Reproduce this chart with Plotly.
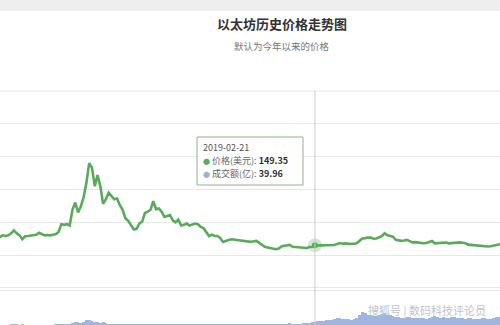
import pandas as pd
import plotly.graph_objects as go

# ---- data (5-day samples) ----
start_date = "2017-07-31"
step = "5D"
price = [
    250, 270, 300, 290, 300, 330, 375, 330, 300, 240,
    285, 290, 300, 300, 310, 340, 320, 300, 305, 300,
    310, 315, 350, 470, 460, 470, 450, 690, 800, 650,
    740, 880, 1100, 1400, 1330, 1050, 1220, 1050, 780, 850,
    950, 900, 850, 860, 760, 690, 560, 520, 450, 390,
    400, 480, 510, 640, 660, 690, 820, 700, 710, 660,
    580, 600, 610, 530, 500, 540, 450, 460, 480, 450,
    470, 480, 470, 430, 410, 340, 290, 310, 290, 290,
    260, 200, 220, 230, 240, 235, 225, 225, 215, 210,
    205, 200, 210, 215, 185, 155, 125, 115, 105, 95,
    88, 100, 130, 140, 150, 155, 125, 125, 120, 115,
    110, 105, 122, 125, 149.35, 145, 140, 147, 150, 152,
    150, 153, 170, 182, 172, 178, 170, 166, 172, 178,
    215, 252, 258, 268, 265, 248, 252, 268, 288, 332,
    300, 290, 280, 232, 226, 216, 222, 232, 212, 192,
    196, 190, 182, 180, 184, 196, 215, 178, 182, 180,
    194, 190, 178, 182, 188, 190, 192, 186, 180, 158,
    154, 150, 148, 142, 130, 132, 130, 134, 144, 146,
    166, 170, 166,
]
volume = [
    4, 5, 5, 4, 5, 6, 7, 6, 5, 7,
    5, 4, 4, 4, 4, 5, 4, 4, 4, 5,
    5, 6, 9, 13, 11, 12, 14, 26, 38, 30,
    28, 40, 52, 60, 48, 36, 34, 28, 30, 20,
    15, 14, 12, 13, 14, 15, 12, 11, 12, 11,
    10, 11, 13, 15, 14, 12, 13, 12, 11, 10,
    9, 9, 10, 9, 8, 9, 8, 8, 8, 8,
    8, 9, 8, 9, 10, 12, 13, 11, 10, 9,
    9, 12, 11, 10, 9, 8, 8, 7, 8, 7,
    7, 7, 7, 8, 10, 13, 14, 12, 11, 13,
    15, 14, 16, 15, 16, 18, 17, 16, 16, 17,
    20, 22, 25, 30, 39.96, 42, 45, 48, 52, 58,
    60, 65, 75, 80, 72, 68, 65, 62, 70, 85,
    110, 150, 140, 120, 110, 100, 105, 115, 125, 140,
    120, 110, 100, 95, 90, 85, 82, 88, 90, 84,
    80, 78, 82, 76, 74, 80, 95, 105, 88, 82,
    86, 84, 80, 90, 92, 84, 78, 76, 74, 80,
    78, 72, 70, 74, 80, 76, 70, 72, 84, 88,
    95, 92, 90,
]
dates = pd.date_range(start_date, periods=len(price), freq=step)

tip_date = "2019-02-21"
tip_price = 149.35
tip_volume = 39.96

title_text = "以太坊历史价格走势图"
subtitle_text = "默认为今年以来的价格"
price_label = "价格(美元)"
volume_label = "成交额(亿)"
watermark = "搜狐号 | 数码科技评论员"

x_view = ["2017-08-05", "2020-01-19"]
price_range = [-533, 2500]
volume_range = [0, 400]

FONT = "Noto Sans CJK SC"
GREEN = "#5aaa5c"
BLUE = "rgba(120,150,210,0.7)"
GRID = "#e8e8e8"

fig = go.Figure()

fig.add_trace(go.Bar(
    x=dates, y=volume, yaxis="y2", marker=dict(color=BLUE, line=dict(width=0)),
    showlegend=False, hoverinfo="skip",
))
fig.add_trace(go.Scatter(
    x=dates, y=price, mode="lines", line=dict(color=GREEN, width=2.6),
    showlegend=False, hoverinfo="skip",
))
# highlighted point
fig.add_trace(go.Scatter(
    x=[tip_date], y=[tip_price], mode="markers",
    marker=dict(size=14, color="rgba(90,170,92,0.28)"),
    showlegend=False, hoverinfo="skip",
))
fig.add_trace(go.Scatter(
    x=[tip_date], y=[tip_price], mode="markers",
    marker=dict(size=6, color=GREEN),
    showlegend=False, hoverinfo="skip",
))

H = 234.0  # plot height in px (325 - 91)


def py(px):
    return (325 - px) / H


tip_lines = [
    f"<span style='color:#555'>{tip_date}</span>",
    f"<span style='color:{GREEN};font-size:7px'>●</span> {price_label}: <b style='color:#333'>{tip_price:.2f}</b>",
    f"<span style='color:#9fb0d4;font-size:7px'>●</span> {volume_label}: <b style='color:#333'>{tip_volume:.2f}</b>",
]
tip_y = [147.5, 160.5, 173.5]

annotations = [
    dict(text=f"<b>{title_text}</b>", xref="paper", yref="paper", x=282 / 500, y=py(24),
         xanchor="center", yanchor="middle", showarrow=False,
         font=dict(size=13, color="#333333", family=FONT)),
    dict(text=subtitle_text, xref="paper", yref="paper", x=282 / 500, y=py(46),
         xanchor="center", yanchor="middle", showarrow=False,
         font=dict(size=9.5, color="#777777", family=FONT)),
    dict(text=watermark, xref="paper", yref="paper", x=427 / 500, y=py(310),
         xanchor="center", yanchor="middle", showarrow=False,
         font=dict(size=11, color="#bfc3ca", family=FONT)),
]
for t, yy in zip(tip_lines, tip_y):
    annotations.append(dict(
        text=t, xref="paper", yref="paper", x=202 / 500, y=py(yy),
        xanchor="left", yanchor="middle", showarrow=False, align="left",
        borderpad=0, font=dict(size=9, color="#666666", family=FONT)))

fig.update_layout(
    width=500, height=325,
    margin=dict(l=0, r=0, t=91, b=0),
    paper_bgcolor="white", plot_bgcolor="white",
    bargap=0,
    font=dict(family=FONT),
    hovermode=False,
    xaxis=dict(type="date", range=x_view, showgrid=False, showticklabels=False,
               zeroline=False, showline=True, linecolor=GRID, linewidth=1,
               anchor="y", ticks=""),
    yaxis=dict(domain=[py(290), 1], range=price_range, tick0=0, dtick=500,
               showgrid=True, gridcolor=GRID, gridwidth=1, zeroline=False,
               showticklabels=False, ticks=""),
    yaxis2=dict(domain=[0, py(290)], range=volume_range, showgrid=False,
                zeroline=False, showticklabels=False, anchor="x"),
    shapes=[
        dict(type="rect", xref="paper", yref="paper", x0=0, x1=1,
             y0=py(11), y1=py(0), fillcolor="#eeeeee", line=dict(width=0), layer="below"),
        dict(type="line", xref="paper", yref="paper", x0=0, x1=1,
             y0=1, y1=1, line=dict(color=GRID, width=1), layer="below"),
        dict(type="line", xref="x", yref="paper", x0=tip_date, x1=tip_date,
             y0=0, y1=1, line=dict(color="#cccccc", width=1)),
        dict(type="rect", xref="paper", yref="paper", x0=197 / 500, x1=303 / 500,
             y0=py(185), y1=py(137), fillcolor="rgba(255,255,255,0.95)",
             line=dict(color="#8fb58f", width=1), layer="above"),
    ],
    annotations=annotations,
)

fig.write_html("out.html")
